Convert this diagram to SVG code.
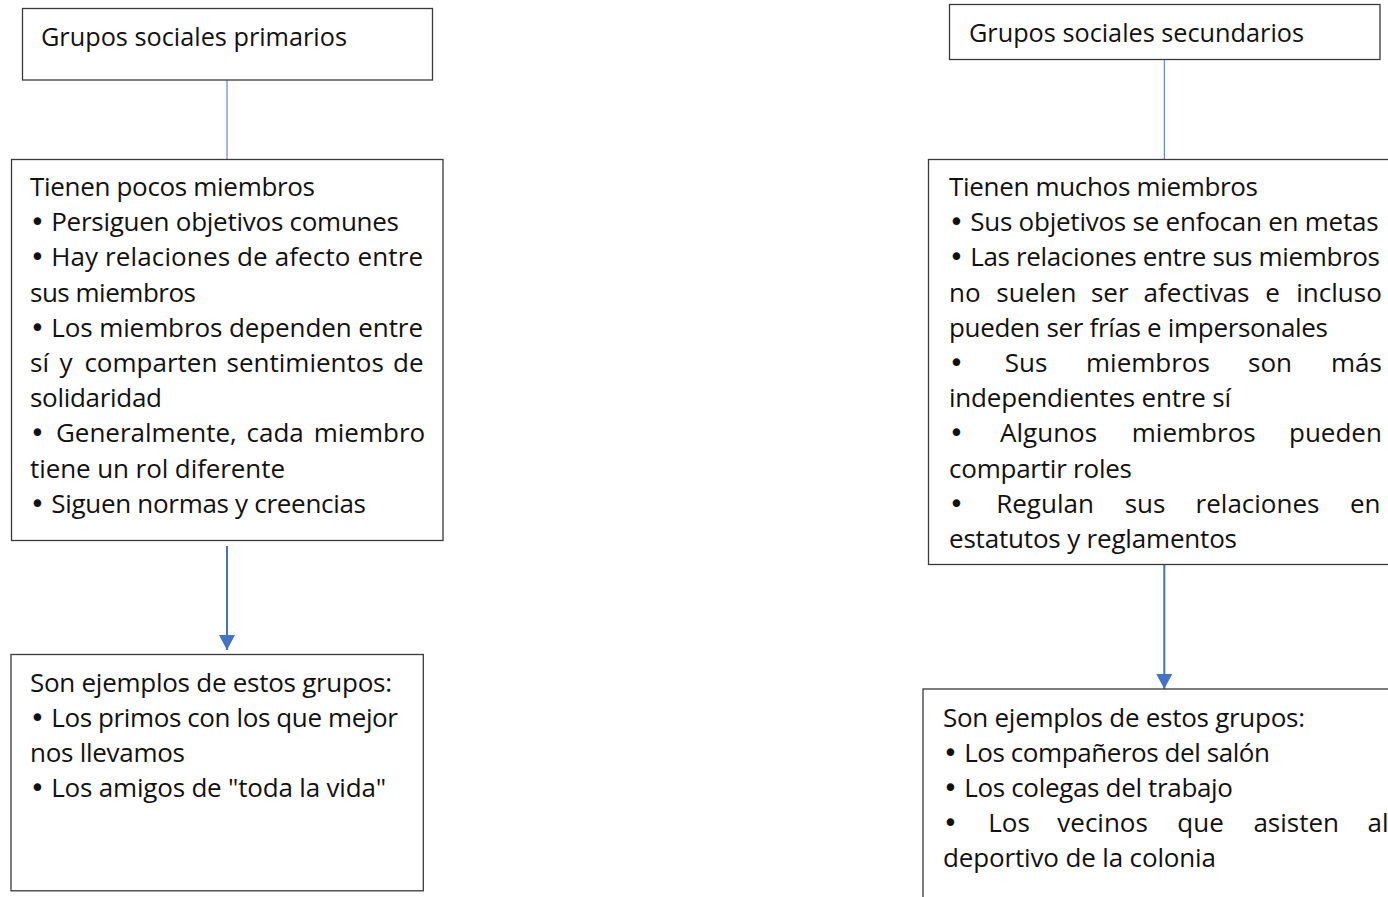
<svg xmlns="http://www.w3.org/2000/svg" width="1388" height="897" viewBox="0 0 1388 897">
<style>
.box{fill:#ffffff;stroke:#3a3a3a;stroke-width:1.3}
.t{font-family:"Open Sans","Noto Sans","Liberation Sans",sans-serif;font-size:26px;fill:#111111}
.b{font-family:"DejaVu Sans","Liberation Sans",sans-serif;font-size:26px;fill:#111111;text-anchor:middle}
.thin{stroke:#4472C4;stroke-width:1;fill:none}
.arr{stroke:#4472C4;stroke-width:2;fill:none}
</style>
<defs>
<marker id="ah" markerUnits="userSpaceOnUse" markerWidth="16" markerHeight="16" viewBox="0 0 16 16" refX="15" refY="8" orient="auto">
<path d="M0,0 L15,8 L0,16 z" fill="#4472C4"/>
</marker>
</defs>
<rect width="1388" height="897" fill="#ffffff"/>

<g id="connectors">
<line class="thin" x1="227" y1="80" x2="227" y2="159"/>
<line class="thin" x1="1164.3" y1="59" x2="1164.3" y2="159"/>
<line class="arr" x1="227" y1="546" x2="227" y2="650" marker-end="url(#ah)"/>
<line class="arr" x1="1164.3" y1="565" x2="1164.3" y2="689" marker-end="url(#ah)"/>
</g>

<g id="primarios">
<rect class="box" x="22.5" y="8.5" width="410" height="71.5"/>
<text class="t" x="41" y="46" textLength="306" lengthAdjust="spacingAndGlyphs">Grupos sociales primarios</text>
</g>

<g id="caracteristicas-primarios">
<rect class="box" x="11.5" y="159.5" width="431.5" height="381"/>
<text class="t" x="30" y="196" textLength="285">Tienen pocos miembros</text>
<text class="b" x="37.3" y="231.2">•</text>
<text class="t" x="51.2" y="231.2" textLength="347.8">Persiguen objetivos comunes</text>
<text class="b" x="37.3" y="266.4">•</text>
<text class="t" x="51.2" y="266.4" textLength="371.8">Hay relaciones de afecto entre</text>
<text class="t" x="30" y="301.6" textLength="166">sus miembros</text>
<text class="b" x="37.3" y="336.8">•</text>
<text class="t" x="51.2" y="336.8" textLength="371.8">Los miembros dependen entre</text>
<text class="t" y="372"><tspan x="30">sí</tspan><tspan x="59.6">y</tspan><tspan x="84.4">comparten</tspan><tspan x="226.6">sentimientos</tspan><tspan x="393">de</tspan></text>
<text class="t" x="30" y="407.2" textLength="132">solidaridad</text>
<text class="b" x="37.3" y="442.4">•</text>
<text class="t" y="442.4"><tspan x="55.9">Generalmente,</tspan><tspan x="246.5">cada</tspan><tspan x="313.7">miembro</tspan></text>
<text class="t" x="30" y="477.6" textLength="255">tiene un rol diferente</text>
<text class="b" x="37.3" y="512.8">•</text>
<text class="t" x="51.2" y="512.8" textLength="314.8">Siguen normas y creencias</text>
</g>

<g id="ejemplos-primarios">
<rect class="box" x="11" y="654.5" width="412.3" height="236.3"/>
<text class="t" x="30" y="692" textLength="362">Son ejemplos de estos grupos:</text>
<text class="b" x="37.3" y="727">•</text>
<text class="t" x="51.2" y="727" textLength="346.8">Los primos con los que mejor</text>
<text class="t" x="30" y="762" textLength="155">nos llevamos</text>
<text class="b" x="37.3" y="797">•</text>
<text class="t" x="51.2" y="797" textLength="334.8">Los amigos de "toda la vida"</text>
</g>

<g id="secundarios">
<rect class="box" x="949.5" y="4.5" width="430.5" height="55"/>
<text class="t" x="969" y="41.5" textLength="335" lengthAdjust="spacingAndGlyphs">Grupos sociales secundarios</text>
</g>

<g id="caracteristicas-secundarios">
<rect class="box" x="928.5" y="159.5" width="475" height="405"/>
<text class="t" x="949" y="196" textLength="309">Tienen muchos miembros</text>
<text class="b" x="956.3" y="231.2">•</text>
<text class="t" x="970.2" y="231.2" textLength="408.4">Sus objetivos se enfocan en metas</text>
<text class="b" x="956.3" y="266.4">•</text>
<text class="t" x="970.2" y="266.4" textLength="409.8">Las relaciones entre sus miembros</text>
<text class="t" y="301.6"><tspan x="949">no</tspan><tspan x="996.3">suelen</tspan><tspan x="1090.9">ser</tspan><tspan x="1143.6">afectivas</tspan><tspan x="1265.3">e</tspan><tspan x="1296.3">incluso</tspan></text>
<text class="t" x="949" y="336.8" textLength="379">pueden ser frías e impersonales</text>
<text class="b" x="956.3" y="372">•</text>
<text class="t" y="372"><tspan x="1004.8">Sus</tspan><tspan x="1086">miembros</tspan><tspan x="1248">son</tspan><tspan x="1331">más</tspan></text>
<text class="t" x="949" y="407.2" textLength="282">independientes entre sí</text>
<text class="b" x="956.3" y="442.4">•</text>
<text class="t" y="442.4"><tspan x="1000.1">Algunos</tspan><tspan x="1131.8">miembros</tspan><tspan x="1289">pueden</tspan></text>
<text class="t" x="949" y="477.6" textLength="183">compartir roles</text>
<text class="b" x="956.3" y="512.8">•</text>
<text class="t" y="512.8"><tspan x="996.2">Regulan</tspan><tspan x="1124.7">sus</tspan><tspan x="1195.6">relaciones</tspan><tspan x="1349.9">en</tspan></text>
<text class="t" x="949" y="548" textLength="288">estatutos y reglamentos</text>
</g>

<g id="ejemplos-secundarios">
<rect class="box" x="923" y="689" width="490" height="230"/>
<text class="t" x="943" y="727" textLength="362">Son ejemplos de estos grupos:</text>
<text class="b" x="950.3" y="762">•</text>
<text class="t" x="964.2" y="762" textLength="305.8">Los compañeros del salón</text>
<text class="b" x="950.3" y="797">•</text>
<text class="t" x="964.2" y="797" textLength="268.8">Los colegas del trabajo</text>
<text class="b" x="950.3" y="832">•</text>
<text class="t" y="832"><tspan x="988.3">Los</tspan><tspan x="1057.3">vecinos</tspan><tspan x="1177.3">que</tspan><tspan x="1253.4">asisten</tspan><tspan x="1367.6">al</tspan></text>
<text class="t" x="943" y="867" textLength="273">deportivo de la colonia</text>
</g>
</svg>
